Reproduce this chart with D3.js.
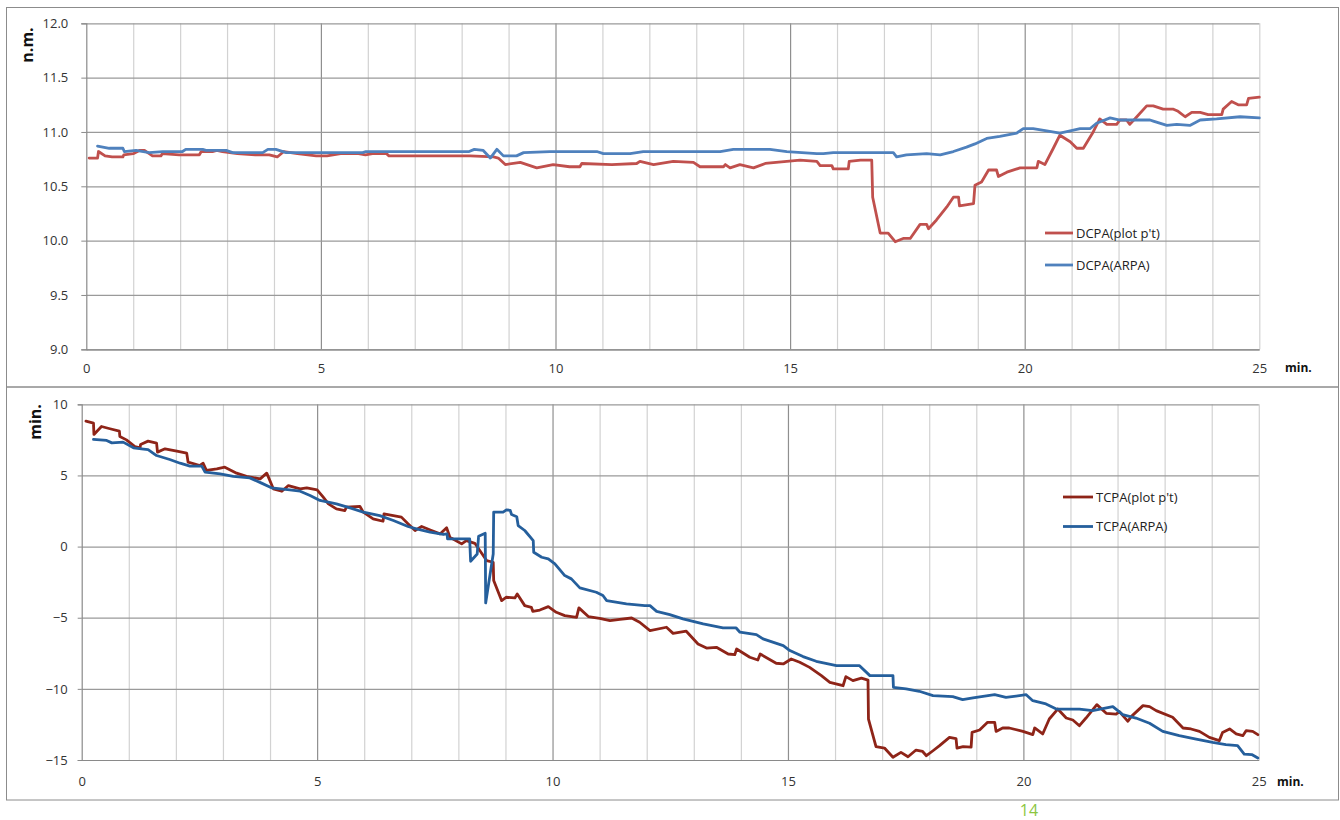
<!DOCTYPE html>
<html>
<head>
<meta charset="utf-8">
<script src="https://cdn.jsdelivr.net/npm/d3@7"></script>
<style>
  html, body { margin: 0; padding: 0; background: #fff; }
  svg { display: block; }
  text { font-family: "Open Sans", "Liberation Sans", sans-serif; }
</style>
</head>
<body>
<svg id="chart" width="1340" height="820"></svg>
<script>
// ---- Data: time (min) vs. value ----
const minuteTicks = [0, 5, 10, 15, 20, 25];
const dcpaTicks = [9.0, 9.5, 10.0, 10.5, 11.0, 11.5, 12.0];
const tcpaTicks = [-15, -10, -5, 0, 5, 10];

const dcpaLabels = ["DCPA(plot p't)", "DCPA(ARPA)"];
const tcpaLabels = ["TCPA(plot p't)", "TCPA(ARPA)"];

// DCPA from the plotting point (n.m.)
const dcpaPlot = [
  [0.06,10.76],[0.24,10.76],[0.26,10.82],[0.4,10.78],[0.55,10.77],[0.78,10.77],[0.8,10.79],
  [1.0,10.80],[1.13,10.83],[1.24,10.83],[1.41,10.78],[1.59,10.78],[1.62,10.80],[1.98,10.79],
  [2.41,10.79],[2.45,10.82],[2.69,10.82],[2.78,10.83],[2.9,10.82],[3.22,10.80],[3.6,10.79],
  [3.9,10.79],[4.07,10.77],[4.21,10.82],[4.5,10.80],[4.9,10.78],[5.13,10.78],[5.42,10.80],
  [5.8,10.80],[5.95,10.79],[6.1,10.80],[6.4,10.80],[6.45,10.78],[7.2,10.78],[7.98,10.78],
  [8.18,10.78],[8.68,10.77],[8.78,10.76],[8.93,10.70],[9.25,10.72],[9.6,10.67],[9.95,10.70],
  [10.3,10.68],[10.52,10.68],[10.56,10.71],[11.2,10.70],[11.73,10.71],[11.8,10.73],[12.09,10.70],
  [12.51,10.73],[12.94,10.72],[13.08,10.68],[13.58,10.68],[13.62,10.70],[13.72,10.67],[13.93,10.70],
  [14.22,10.67],[14.47,10.71],[14.93,10.73],[15.21,10.74],[15.57,10.73],[15.64,10.69],[15.89,10.69],
  [15.92,10.66],[16.24,10.66],[16.26,10.73],[16.5,10.74],[16.74,10.74],[16.76,10.40],[16.92,10.07],
  [17.09,10.07],[17.24,9.99],[17.41,10.02],[17.56,10.02],[17.77,10.15],[17.91,10.15],[17.95,10.11],
  [18.12,10.19],[18.34,10.31],[18.48,10.40],[18.59,10.40],[18.61,10.32],[18.91,10.34],[18.94,10.51],
  [19.08,10.54],[19.23,10.65],[19.40,10.65],[19.44,10.59],[19.62,10.63],[19.90,10.67],[20.26,10.67],
  [20.29,10.73],[20.43,10.70],[20.61,10.85],[20.75,10.97],[20.97,10.91],[21.11,10.85],[21.25,10.85],
  [21.46,11.00],[21.60,11.12],[21.75,11.07],[21.96,11.07],[22.03,11.11],[22.17,11.11],[22.24,11.07],
  [22.39,11.14],[22.60,11.24],[22.74,11.24],[22.95,11.21],[23.17,11.21],[23.27,11.19],[23.42,11.14],
  [23.56,11.18],[23.74,11.18],[23.91,11.16],[24.20,11.16],[24.23,11.21],[24.41,11.28],[24.55,11.25],
  [24.73,11.25],[24.77,11.31],[25.0,11.32]
];

// DCPA reported by ARPA (n.m.)
const dcpaArpa = [
  [0.24,10.87],[0.49,10.85],[0.78,10.85],[0.81,10.82],[1.06,10.83],[1.34,10.81],[1.63,10.82],
  [2.05,10.82],[2.12,10.84],[2.48,10.84],[2.55,10.83],[2.98,10.83],[3.12,10.81],[3.76,10.81],
  [3.87,10.84],[4.04,10.84],[4.26,10.81],[5.89,10.81],[5.96,10.82],[6.1,10.82],[8.16,10.82],
  [8.27,10.84],[8.46,10.83],[8.61,10.76],[8.75,10.84],[8.89,10.78],[9.17,10.78],[9.32,10.81],
  [9.88,10.82],[10.88,10.82],[11.02,10.80],[11.59,10.80],[11.87,10.82],[13.51,10.82],[13.79,10.84],
  [14.57,10.84],[14.93,10.82],[15.57,10.80],[15.71,10.80],[15.92,10.81],[17.2,10.81],[17.27,10.77],
  [17.48,10.79],[17.91,10.80],[18.2,10.79],[18.48,10.82],[18.76,10.86],[18.94,10.89],[19.19,10.94],
  [19.47,10.96],[19.83,10.99],[19.97,11.03],[20.18,11.03],[20.47,11.01],[20.75,10.99],[20.97,11.01],
  [21.18,11.03],[21.39,11.03],[21.53,11.08],[21.82,11.13],[22.03,11.11],[22.67,11.11],[22.74,11.10],
  [23.03,11.06],[23.24,11.07],[23.52,11.06],[23.74,11.11],[24.09,11.12],[24.59,11.14],[25.0,11.13]
];

// TCPA from the plotting point (min.)
const tcpaPlot = [
  [0.09,8.82],[0.25,8.68],[0.26,7.88],[0.42,8.44],[0.6,8.28],[0.8,8.11],[0.81,7.74],[0.95,7.5],
  [1.13,7.03],[1.24,6.94],[1.25,7.18],[1.41,7.41],[1.59,7.27],[1.61,6.64],[1.77,6.87],[2.02,6.71],
  [2.23,6.57],[2.26,5.93],[2.51,5.7],[2.58,5.86],[2.65,5.35],[2.87,5.46],[3.04,5.58],[3.29,5.16],
  [3.5,4.93],[3.79,4.76],[3.93,5.16],[4.07,4.06],[4.25,3.89],[4.39,4.29],[4.64,4.06],[4.78,4.13],
  [5.0,3.99],[5.13,3.47],[5.24,3.0],[5.41,2.65],[5.59,2.53],[5.62,2.77],[5.91,2.82],[5.98,2.42],
  [6.19,1.95],[6.4,1.78],[6.42,2.3],[6.79,2.07],[6.93,1.6],[7.08,1.13],[7.22,1.41],[7.43,1.13],
  [7.61,0.89],[7.75,1.32],[7.82,0.66],[8.07,0.19],[8.17,0.42],[8.35,0.23],[8.6,-0.98],[8.74,-1.1],
  [8.75,-2.39],[8.92,-3.8],[9.02,-3.56],[9.2,-3.61],[9.25,-3.33],[9.41,-4.15],[9.55,-4.27],[9.58,-4.55],
  [9.73,-4.46],[9.91,-4.22],[10.08,-4.62],[10.26,-4.85],[10.51,-4.97],[10.56,-4.31],[10.76,-4.92],
  [11.0,-5.04],[11.22,-5.2],[11.43,-5.11],[11.68,-5.02],[11.85,-5.32],[12.07,-5.91],[12.42,-5.67],
  [12.56,-6.1],[12.84,-5.95],[13.09,-6.85],[13.27,-7.13],[13.48,-7.08],[13.73,-7.55],[13.87,-7.6],
  [13.91,-7.2],[14.19,-7.78],[14.36,-7.97],[14.41,-7.55],[14.75,-8.2],[14.9,-8.25],[15.07,-7.9],
  [15.25,-8.13],[15.46,-8.49],[15.71,-9.07],[15.89,-9.54],[16.17,-9.78],[16.23,-9.14],[16.38,-9.42],
  [16.56,-9.24],[16.7,-9.38],[16.71,-12.12],[16.87,-14.06],[17.05,-14.16],[17.23,-14.81],[17.4,-14.46],
  [17.55,-14.77],[17.72,-14.3],[17.86,-14.4],[17.94,-14.7],[18.08,-14.35],[18.22,-13.99],[18.43,-13.41],
  [18.57,-13.5],[18.59,-14.16],[18.72,-14.06],[18.89,-14.1],[18.91,-13.06],[19.07,-12.89],[19.24,-12.35],
  [19.39,-12.35],[19.42,-12.99],[19.56,-12.75],[19.7,-12.75],[19.99,-12.99],[20.2,-13.22],[20.24,-12.75],
  [20.41,-13.17],[20.55,-12.12],[20.73,-11.42],[20.91,-12.05],[21.05,-12.19],[21.19,-12.59],[21.33,-12.05],
  [21.56,-11.11],[21.76,-11.72],[21.97,-11.77],[22.04,-11.6],[22.22,-12.28],[22.29,-11.95],[22.54,-11.18],
  [22.68,-11.25],[22.82,-11.53],[23.17,-12.0],[23.39,-12.75],[23.56,-12.82],[23.74,-12.99],[23.95,-13.41],
  [24.16,-13.64],[24.23,-13.06],[24.38,-12.82],[24.52,-13.17],[24.66,-13.29],[24.73,-12.94],[24.87,-12.99],
  [24.98,-13.22]
];

// TCPA reported by ARPA (min.)
const tcpaArpa = [
  [0.25,7.53],[0.53,7.46],[0.64,7.29],[0.88,7.34],[1.1,6.94],[1.27,6.87],[1.41,6.82],[1.59,6.4],
  [1.87,6.12],[2.09,5.86],[2.3,5.65],[2.55,5.65],[2.62,5.23],[2.94,5.11],[3.22,4.93],[3.57,4.83],
  [3.82,4.46],[4.03,4.13],[4.42,3.99],[4.64,3.89],[4.85,3.59],[5.06,3.24],[5.41,3.0],[5.7,2.72],
  [5.98,2.42],[6.33,2.18],[6.62,1.83],[6.93,1.41],[7.11,1.25],[7.4,1.01],[7.68,0.85],[7.76,0.89],
  [7.77,0.54],[8.24,0.54],[8.26,-1.03],[8.4,-0.52],[8.43,0.73],[8.57,0.94],[8.58,-3.96],[8.74,-0.52],
  [8.75,2.42],[8.95,2.42],[9.02,2.58],[9.1,2.55],[9.13,2.25],[9.24,2.1],[9.27,1.48],[9.41,1.13],
  [9.59,0.42],[9.6,-0.4],[9.77,-0.75],[9.91,-0.87],[10.05,-1.22],[10.26,-2.04],[10.4,-2.27],
  [10.58,-2.9],[10.93,-3.21],[11.07,-3.44],[11.15,-3.8],[11.57,-4.03],[11.96,-4.15],[12.07,-4.15],
  [12.21,-4.55],[12.49,-4.78],[12.77,-5.08],[13.2,-5.44],[13.62,-5.72],[13.9,-5.72],[13.98,-6.02],
  [14.33,-6.19],[14.47,-6.49],[14.9,-6.96],[15.04,-7.31],[15.32,-7.73],[15.6,-8.06],[16.03,-8.37],
  [16.52,-8.37],[16.74,-9.07],[17.23,-9.07],[17.24,-9.89],[17.51,-10.0],[17.79,-10.17],[18.08,-10.48],
  [18.5,-10.55],[18.71,-10.76],[18.93,-10.64],[19.39,-10.41],[19.63,-10.6],[20.06,-10.41],[20.2,-10.83],
  [20.48,-11.06],[20.7,-11.42],[21.19,-11.42],[21.47,-11.53],[21.9,-11.25],[22.11,-11.81],[22.39,-12.05],
  [22.68,-12.42],[22.96,-12.99],[23.31,-13.29],[23.67,-13.53],[24.02,-13.76],[24.3,-13.92],[24.55,-13.99],
  [24.69,-14.58],[24.85,-14.62],[24.98,-14.86]
];

// ---- Drawing ----
const svg = d3.select("#chart");

// chart frames
svg.append("rect").attr("x", 6.5).attr("y", 7.5).attr("width", 1332).attr("height", 379.5)
  .attr("fill", "none").attr("stroke", "#8c8c8c");
svg.append("rect").attr("x", 6.5).attr("y", 387).attr("width", 1332).attr("height", 413)
  .attr("fill", "none").attr("stroke", "#8c8c8c");

function panel(cfg) {
  const x = cfg.x, y = cfg.y;
  const [x0, x1] = x.range();
  const [yb, yt] = y.range();
  const g = svg.append("g");

  // vertical gridlines, one per minute (every fifth stronger)
  g.append("g").attr("transform", `translate(0,${yb})`)
    .call(d3.axisBottom(x).tickValues(d3.range(1, 26)).tickSize(-(yb - yt)).tickFormat(""))
    .call(a => a.select(".domain").remove())
    .call(a => a.selectAll(".tick line")
      .attr("stroke", d => (d % 5 === 0 && d !== 25) ? "#8f8f8f" : "#d2d2d2")
      .attr("stroke-width", 1.2));

  // horizontal gridlines
  g.append("g").attr("transform", `translate(${x0},0)`)
    .call(d3.axisLeft(y).tickValues(cfg.yTicks).tickSize(-(x1 - x0)).tickFormat(""))
    .call(a => a.select(".domain").remove())
    .call(a => a.selectAll(".tick line").attr("stroke", "#9a9a9a").attr("stroke-width", 1.2));

  // y axis with labels
  g.append("g").attr("transform", `translate(${x0},0)`)
    .call(d3.axisLeft(y).tickValues(cfg.yTicks).tickSize(cfg.tickLen).tickPadding(cfg.yPad)
      .tickFormat(cfg.yFormat))
    .call(a => a.select(".domain").attr("stroke", "#8a8a8a").attr("stroke-width", 1.2))
    .call(a => a.selectAll(".tick line").attr("stroke", "#8a8a8a"))
    .call(a => a.selectAll("text").attr("font-size", 13).attr("fill", "#333")
      .attr("font-family", "'Open Sans', sans-serif"));

  // x axis with labels
  g.append("g").attr("transform", `translate(0,${yb})`)
    .call(d3.axisBottom(x).tickValues(minuteTicks).tickSize(0).tickPadding(cfg.xPad)
      .tickFormat(d3.format("d")))
    .call(a => a.select(".domain").attr("stroke", "#8a8a8a").attr("stroke-width", 1.2))
    .call(a => a.selectAll("text").attr("font-size", 13).attr("fill", "#333")
      .attr("font-family", "'Open Sans', sans-serif"));

  const line = d3.line().x(d => x(d[0])).y(d => y(d[1]));

  cfg.series.forEach((s, i) => {
    g.append("path").datum(s.data)
      .attr("d", line)
      .attr("fill", "none")
      .attr("stroke", s.color)
      .attr("stroke-width", 2.8)
      .attr("stroke-linejoin", "round")
      .attr("stroke-linecap", "round");

    // legend entry
    const ly = cfg.legend.y + i * cfg.legend.gap;
    g.append("line")
      .attr("x1", cfg.legend.x).attr("x2", cfg.legend.x + cfg.legend.len)
      .attr("y1", ly).attr("y2", ly)
      .attr("stroke", s.color).attr("stroke-width", 2.8);
    g.append("text")
      .attr("x", cfg.legend.x + cfg.legend.len + 3).attr("y", ly)
      .attr("dy", "0.35em")
      .attr("font-size", 13).attr("fill", "#222")
      .text(s.label);
  });

  // axis titles
  g.append("text")
    .attr("transform", `translate(${cfg.yTitle.x},${cfg.yTitle.y}) rotate(-90)`)
    .attr("text-anchor", "middle").attr("dy", "0.35em")
    .attr("font-size", 16).attr("font-weight", "bold").attr("fill", "#111")
    .text(cfg.yTitle.text);
  g.append("text")
    .attr("x", cfg.xTitle.x).attr("y", cfg.xTitle.y)
    .attr("dy", "0.35em")
    .attr("font-size", 12).attr("font-weight", "bold").attr("fill", "#111")
    .text("min.");
}

panel({
  x: d3.scaleLinear().domain([0, 25]).range([86.3, 1259.3]),
  y: d3.scaleLinear().domain([9, 12]).range([349.3, 23.3]),
  yTicks: dcpaTicks,
  yFormat: d3.format(".1f"),
  tickLen: 5, yPad: 13, xPad: 14,
  series: [
    { data: dcpaPlot, color: "#c0504d", label: dcpaLabels[0] },
    { data: dcpaArpa, color: "#4f81bd", label: dcpaLabels[1] }
  ],
  legend: { x: 1045, y: 233, gap: 32, len: 28 },
  yTitle: { x: 27, y: 45, text: "n.m." },
  xTitle: { x: 1285, y: 368 }
});

panel({
  x: d3.scaleLinear().domain([0, 25]).range([81.7, 1258.8]),
  y: d3.scaleLinear().domain([-15, 10]).range([760, 404.3]),
  yTicks: tcpaTicks,
  yFormat: d3.format("d"),
  tickLen: 4, yPad: 10, xPad: 17,
  series: [
    { data: tcpaPlot, color: "#8e2418", label: tcpaLabels[0] },
    { data: tcpaArpa, color: "#255f9c", label: tcpaLabels[1] }
  ],
  legend: { x: 1063, y: 497, gap: 29.5, len: 30 },
  yTitle: { x: 35, y: 422, text: "min." },
  xTitle: { x: 1277, y: 781.5 }
});

// page number
svg.append("text")
  .attr("x", 1029).attr("y", 810)
  .attr("dy", "0.35em")
  .attr("text-anchor", "middle")
  .attr("font-size", 16).attr("fill", "#8cc63f")
  .text("14");
</script>
</body>
</html>
